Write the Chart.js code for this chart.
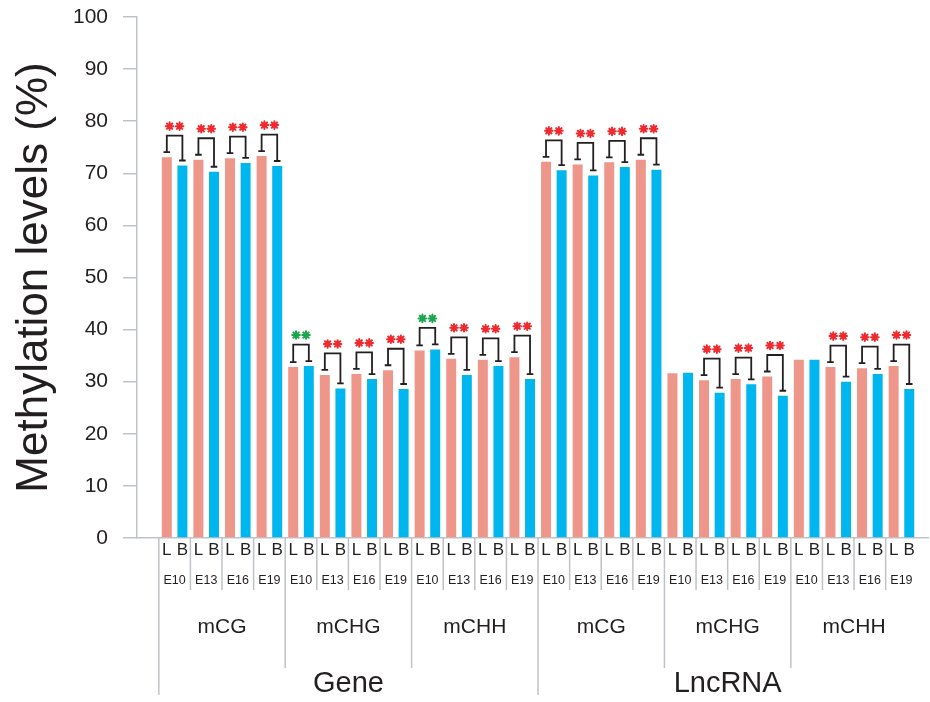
<!DOCTYPE html>
<html>
<head>
<meta charset="utf-8">
<script src="https://cdn.jsdelivr.net/npm/chart.js@4.4.1/dist/chart.umd.min.js"></script>
<style>
  html, body { margin: 0; padding: 0; background: #fff; }
  #wrap { width: 930px; height: 702px; }
</style>
</head>
<body>
<div id="wrap"><canvas id="chart" width="930" height="702"></canvas></div>
<script>
// Methylation levels, liver (L) vs brain (B), per embryonic stage
const regions = ['Gene', 'LncRNA'];
const contexts = ['mCG', 'mCHG', 'mCHH'];
const stages = ['E10', 'E13', 'E16', 'E19'];
const tissues = ['L', 'B'];

const levelL = [73.1, 72.6, 72.9, 73.3, 32.8, 31.3, 31.5, 32.2, 36.0, 34.4, 34.2, 34.7,
                72.2, 71.7, 72.1, 72.6, 31.6, 30.3, 30.5, 31.0, 34.2, 32.8, 32.6, 33.0];
const levelB = [71.5, 70.3, 72.0, 71.4, 33.0, 28.7, 30.5, 28.6, 36.2, 31.3, 33.0, 30.5,
                70.6, 69.6, 71.2, 70.7, 31.7, 27.9, 29.5, 27.3, 34.2, 30.0, 31.5, 28.6];
// ** marks: r = red, g = green, '' = none
const signif = ['r', 'r', 'r', 'r', 'g', 'r', 'r', 'r', 'g', 'r', 'r', 'r',
                'r', 'r', 'r', 'r', '', 'r', 'r', 'r', '', 'r', 'r', 'r'];
const yTicks = [0, 10, 20, 30, 40, 50, 60, 70, 80, 90, 100];

const FONT = "'Liberation Sans', Arial, sans-serif";
const INK = '#231f20';
const AXIS = '#bfc3c7';
const STAR = { r: '#ee2a2e', g: '#1aa64a' };

const nGroups = regions.length * contexts.length * stages.length;
const idx = Array.from({ length: nGroups }, (_, i) => i);

function asterisk(ctx, cx, cy, r) {
    for (let k = 0; k < 4; k++) {
        const a = k * Math.PI / 4;
        ctx.moveTo(cx - r * Math.cos(a), cy - r * Math.sin(a));
        ctx.lineTo(cx + r * Math.cos(a), cy + r * Math.sin(a));
    }
}

// brackets, stars and the nested category labels under the axis
const annotations = {
    id: 'annotations',
    afterDatasetsDraw(chart) {
        const { ctx, scales: { y } } = chart;
        const mL = chart.getDatasetMeta(0), mB = chart.getDatasetMeta(1);
        ctx.save();
        signif.forEach((s, i) => {
            if (!s) return;
            const xl = mL.data[i].x, xb = mB.data[i].x;
            const yl = y.getPixelForValue(levelL[i]) - 5;
            const yb = y.getPixelForValue(levelB[i]) - 5;
            const top = Math.min(yl, yb) - 16.5;
            ctx.strokeStyle = INK;
            ctx.lineWidth = 1.8;
            ctx.beginPath();
            ctx.moveTo(xl, yl); ctx.lineTo(xl, top); ctx.lineTo(xb, top); ctx.lineTo(xb, yb);
            ctx.moveTo(xl - 3.3, yl); ctx.lineTo(xl + 3.3, yl);
            ctx.moveTo(xb - 3.3, yb); ctx.lineTo(xb + 3.3, yb);
            ctx.stroke();
            const cx = (xl + xb) / 2, cy = top - 9.5;
            ctx.strokeStyle = STAR[s];
            ctx.lineWidth = 2;
            ctx.lineCap = 'round';
            ctx.beginPath();
            asterisk(ctx, cx - 5, cy, 3.8);
            asterisk(ctx, cx + 5, cy, 3.8);
            ctx.stroke();
            ctx.lineCap = 'butt';
        });
        ctx.restore();
    },
    afterDraw(chart) {
        const { ctx, scales: { x } } = chart;
        const mL = chart.getDatasetMeta(0), mB = chart.getDatasetMeta(1);
        const base = chart.chartArea.bottom;
        ctx.save();
        ctx.fillStyle = INK;
        ctx.textAlign = 'center';
        ctx.textBaseline = 'middle';

        // separators
        ctx.strokeStyle = AXIS;
        ctx.lineWidth = 1.5;
        ctx.beginPath();
        idx.forEach(i => {
            const sx = x.getPixelForValue(i - 0.5);
            let len = 52;
            if (i % 12 === 0) len = 157;
            else if (i % 4 === 0) len = 130;
            ctx.moveTo(sx, base); ctx.lineTo(sx, base + len);
        });
        ctx.stroke();

        idx.forEach(i => {
            ctx.font = `17px ${FONT}`;
            ctx.fillText(tissues[0], mL.data[i].x, base + 12);
            ctx.fillText(tissues[1], mB.data[i].x, base + 12);
            ctx.font = `12.5px ${FONT}`;
            ctx.fillText(stages[i % 4], x.getPixelForValue(i), base + 43);
        });
        ctx.font = `21px ${FONT}`;
        for (let c = 0; c < regions.length * contexts.length; c++) {
            const cx = x.getPixelForValue(c * 4 + 1.5);
            ctx.fillText(contexts[c % 3], cx, base + 89);
        }
        ctx.font = `29px ${FONT}`;
        regions.forEach((r, k) => {
            ctx.fillText(r, x.getPixelForValue(k * 12 + 5.5), base + 146);
        });
        ctx.restore();
    }
};

new Chart(document.getElementById('chart'), {
    type: 'bar',
    data: {
        datasets: [
            { label: tissues[0], data: idx.map(i => ({ x: i, y: levelL[i] })), backgroundColor: '#ee9689' },
            { label: tissues[1], data: idx.map(i => ({ x: i, y: levelB[i] })), backgroundColor: '#00b6ee' }
        ]
    },
    options: {
        responsive: false,
        animation: false,
        categoryPercentage: 0.987,
        barPercentage: 0.64,
        layout: { padding: { top: 17, right: 2, left: 0, bottom: 0 } },
        plugins: { legend: { display: false }, tooltip: { enabled: false } },
        scales: {
            x: {
                type: 'linear',
                offset: false,
                min: -1.19,
                max: 23.84,
                afterBuildTicks(s) { s.ticks = idx.map(v => ({ value: v })); },
                ticks: { display: false },
                grid: { display: false, offset: false },
                border: { color: AXIS, width: 1.5 },
                afterFit(s) { s.height = 164; }
            },
            y: {
                min: 0,
                max: 100,
                afterBuildTicks(s) { s.ticks = yTicks.map(v => ({ value: v })); },
                ticks: { color: INK, padding: 15, font: { family: FONT, size: 21 } },
                grid: { drawOnChartArea: false, tickLength: 14, color: AXIS, lineWidth: 1.5 },
                border: { color: AXIS, width: 1.5 },
                title: {
                    display: true,
                    text: 'Methylation levels (%)',
                    color: INK,
                    font: { family: FONT, size: 44 },
                    padding: { top: 8, bottom: 0 }
                },
                afterFit(s) {
                    s.width = 137;
                    s.paddingTop = 0;
                    s.paddingBottom = 0;
                }
            }
        }
    },
    plugins: [annotations]
});
</script>
</body>
</html>
